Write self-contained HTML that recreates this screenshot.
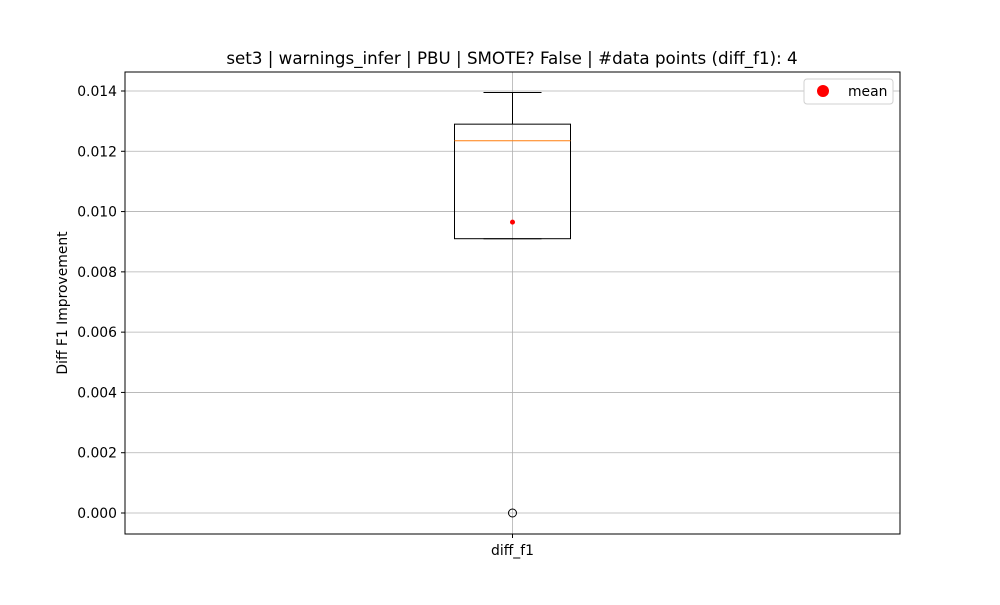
<!DOCTYPE html>
<html><head><meta charset="utf-8"><style>
body{margin:0;background:#fff;font-family:"Liberation Sans",sans-serif}
svg text{font-family:"DejaVu Sans","Liberation Sans",sans-serif}
</style></head><body>
<svg id="c" width="1000" height="600"></svg>
<script>
const categories=["diff_f1"];
const whiskerLow=[0.0091];
const q1=[0.0091];
const median=[0.01235];
const q3=[0.0129];
const whiskerHigh=[0.01395];
const outliers=[[0.0]];
const means=[0.00965];
const yTicks=[0,0.002,0.004,0.006,0.008,0.010,0.012,0.014];
const NS="http://www.w3.org/2000/svg";
const svg=document.getElementById('c');
const L=125,R=900,T=72,B=534;
const y=v=>513-v/0.014*422;
const x=i=>L+(R-L)*(i+0.5)/categories.length;
function el(t,a,txt){const e=document.createElementNS(NS,t);for(const k in a)e.setAttribute(k,a[k]);if(txt!==undefined)e.textContent=txt;svg.appendChild(e);return e;}
yTicks.forEach(v=>{
 const g=el('line',{x1:L,x2:R,y1:y(v),y2:y(v),stroke:'#b0b0b0','stroke-width':0.8});
 
 
 el('line',{x1:L-4,x2:L,y1:y(v),y2:y(v),stroke:'#000'});
 const t=el('text',{x:L-8,y:y(v)+5,'text-anchor':'end','font-size':13.9},v.toFixed(3));
 
 
});
categories.forEach((c,i)=>{
 const cx=x(i);
 el('line',{x1:cx,x2:cx,y1:T,y2:B,stroke:'#b0b0b0','stroke-width':0.8});
 el('line',{x1:cx,x2:cx,y1:B,y2:B+4,stroke:'#000'});
 const t=el('text',{x:cx,y:B+21,'text-anchor':'middle','font-size':13.9},c);
 
 
 const hw=58,cw=29;
 el('line',{x1:cx,x2:cx,y1:y(q3[i]),y2:y(whiskerHigh[i]),stroke:'#000'});
 el('line',{x1:cx,x2:cx,y1:y(q1[i]),y2:y(whiskerLow[i]),stroke:'#000'});
 el('line',{x1:cx-cw,x2:cx+cw,y1:y(whiskerHigh[i]),y2:y(whiskerHigh[i]),stroke:'#000'});
 el('line',{x1:cx-cw,x2:cx+cw,y1:y(whiskerLow[i]),y2:y(whiskerLow[i]),stroke:'#000'});
 const b=el('rect',{x:cx-hw,y:y(q3[i]),width:2*hw,height:y(q1[i])-y(q3[i]),fill:'none',stroke:'#000'});
 
 
 el('line',{x1:cx-hw,x2:cx+hw,y1:y(median[i]),y2:y(median[i]),stroke:'#ff7f0e'});
 outliers[i].forEach(o=>{const p=el('circle',{cx:cx,cy:y(o),r:4,fill:'none',stroke:'#000'});
  
  });
 const m=el('circle',{cx:cx,cy:y(means[i]),r:2.5,fill:'red'});
 
 
});
el('rect',{x:L,y:T,width:R-L,height:B-T,fill:'none',stroke:'#000'});
const ti=el('text',{x:512,y:64,'text-anchor':'middle','font-size':16.7},'set3 | warnings_infer | PBU | SMOTE? False | #data points (diff_f1): 4');


const yl=el('text',{x:0,y:0,'text-anchor':'middle','font-size':13.9,transform:'translate(67,303) rotate(-90)'},'Diff F1 Improvement');


const lg=el('rect',{x:804,y:79,width:89,height:25,rx:3,fill:'#fff',stroke:'#d0d0d0'});


el('circle',{cx:823,cy:91,r:6,fill:'red'});
const lt=el('text',{x:848,y:96,'font-size':13.9},'mean');


</script>
</body></html>
